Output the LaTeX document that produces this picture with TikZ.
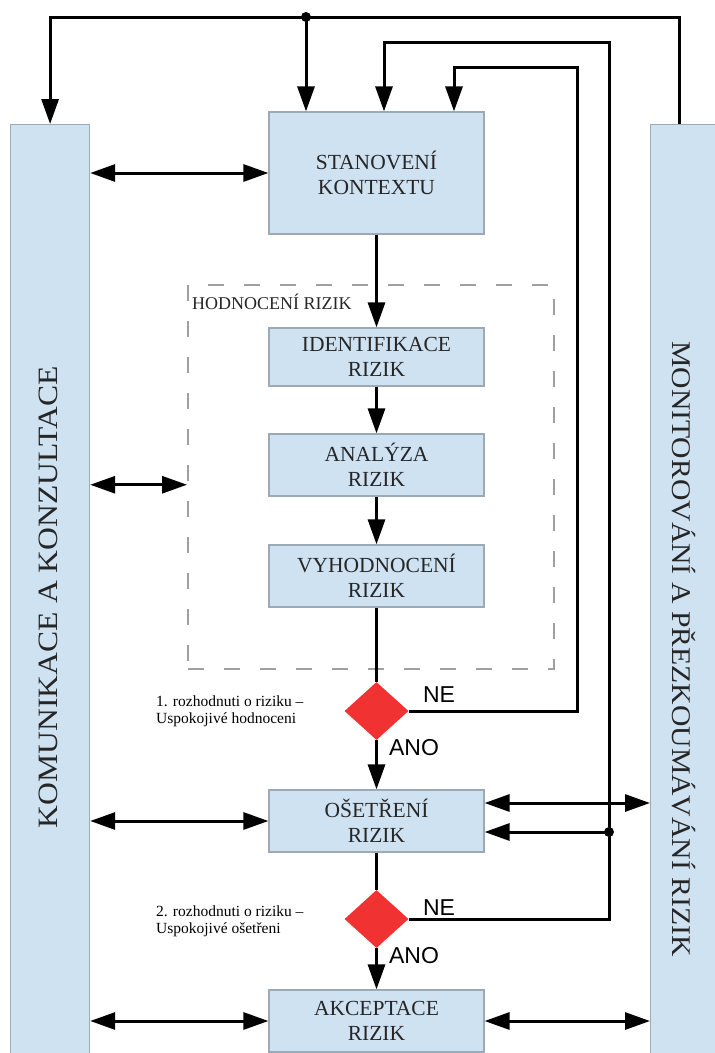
\documentclass[tikz,border=0pt]{standalone}
\usepackage{fontspec}
\setmainfont{Liberation Serif}
\newfontfamily\arialfont{Liberation Sans}
\usetikzlibrary{arrows.meta,shapes.geometric}
\definecolor{boxblue}{RGB}{207,226,242}
\definecolor{boxedge}{RGB}{155,170,180}
\definecolor{decred}{RGB}{240,50,50}
\tikzset{
	krok/.style={draw=boxedge, line width=1.2pt, fill=boxblue, minimum width=215pt, minimum height=60pt, inner sep=0pt, align=center, text=black!85, font=\fontsize{21.5}{25}\selectfont},
	pruh/.style={draw=boxedge, line width=1.2pt, fill=boxblue, inner sep=0pt},
	pruhtext/.style={text=black!85, inner sep=0pt},
	rozhod/.style={diamond, fill=decred, minimum width=64pt, minimum height=58pt, inner sep=0pt},
	spoj/.style={line width=3pt},
	sipka/.style={spoj, -{Triangle[length=25pt,width=17pt]}},
	obousipka/.style={spoj, {Triangle[length=25pt,width=17pt]}-{Triangle[length=25pt,width=17pt]}},
	anone/.style={inner sep=0pt, font=\arialfont\fontsize{23}{23}\selectfont},
	popis/.style={anchor=west, align=left, inner sep=0pt, font=\fontsize{15.5}{17}\selectfont},
}

\begin{document}
\begin{tikzpicture}[x=1pt, y=-1pt]
			%%%%% START %%%%%
			\useasboundingbox (0,0) rectangle (715,1053);
			
			% side bars
			\node[pruh, minimum width=79pt, minimum height=940pt, anchor=north west] (komunikace) at (10,124) {};
			\node[pruh, minimum width=75pt, minimum height=940pt, anchor=north west] (monitorovani) at (650,124) {};
			\node[pruhtext, rotate=90, font=\fontsize{28}{28}\selectfont] (komtext) at (48,597) {\scalebox{1.13}[1]{KOMUNIKACE A KONZULTACE}};
			\node[pruhtext, rotate=-90, font=\fontsize{27}{27}\selectfont] (montext) at (684,649) {\scalebox{1.1}[1]{MONITOROVÁNÍ A PŘEZKOUMÁVÁNÍ RIZIK}};
			
			% frame of the assessment
			\node[draw=gray!75, line width=1.5pt, dash pattern=on 16pt off 20pt, minimum width=366pt, minimum height=384pt, inner sep=0pt, anchor=north west] (hodnoceni) at (187,284) {};
			\node[anchor=west, inner sep=0pt, text=black!85, font=\fontsize{18}{18}\selectfont] (hodnocenitext) at (192,302) {HODNOCENÍ RIZIK};
			
			% steps
			\node[krok, minimum height=122pt] (kontext) at (376.5,173) {STANOVENÍ\\KONTEXTU};
			\node[krok, minimum height=58pt] (identifikace) at (376.5,357) {IDENTIFIKACE\\RIZIK};
			\node[krok, minimum height=62pt] (analyza) at (376.5,465) {ANALÝZA\\RIZIK};
			\node[krok, minimum height=62pt] (vyhodnoceni) at (376.5,576) {VYHODNOCENÍ\\RIZIK};
			\node[rozhod] (rozhodnuti1) at (376.5,711) {};
			\node[krok, minimum height=62pt] (osetreni) at (376.5,821) {OŠETŘENÍ\\RIZIK};
			\node[rozhod] (rozhodnuti2) at (376.5,919) {};
			\node[krok, minimum height=62pt] (akceptace) at (376.5,1021) {AKCEPTACE\\RIZIK};
			
			% decision labels
			\node[anone] (ne1) at (439,695) {NE};
			\node[anone] (ano1) at (414,748) {ANO};
			\node[anone] (ne2) at (439,908) {NE};
			\node[anone] (ano2) at (414,956) {ANO};
			\node[popis] (popis1) at (156,711) {1. rozhodnuti o riziku –\\Uspokojivé hodnoceni};
			\node[popis] (popis2) at (156,921) {2. rozhodnuti o riziku –\\Uspokojivé ošetřeni};
			
			% main flow
			\draw[sipka] (kontext) -- (identifikace);
			\draw[sipka] (identifikace) -- (analyza);
			\draw[sipka] (analyza) -- (vyhodnoceni);
			\draw[spoj] (vyhodnoceni) -- (rozhodnuti1);
			\draw[sipka] (rozhodnuti1) -- (osetreni);
			\draw[spoj] (osetreni) -- (rozhodnuti2);
			\draw[sipka] (rozhodnuti2) -- (akceptace);
			
			% monitoring back to the start
			\coordinate (rozcesti) at (306,17);
			\draw[sipka] ([xshift=29pt]monitorovani.north west) |- (rozcesti) -| (komunikace.north);
			\draw[sipka] (rozcesti) -- (rozcesti |- kontext.north);
			\fill (rozcesti) circle (5pt);
			
			% NE loops
			\coordinate (navrat1) at (577,67);
			\coordinate (navrat2) at (609,42);
			\draw[sipka] (rozhodnuti1.east) -| (navrat1) -| ([xshift=77.5pt]kontext.north);
			\draw[sipka] (rozhodnuti2.east) -| (navrat2) -| ([xshift=7.5pt]kontext.north);
			\coordinate (odbocka) at (609,832);
			\draw[sipka] (odbocka) -- (odbocka -| osetreni.east);
			\fill (odbocka) circle (5pt);
			
			% communication
			\coordinate (hodnocenivstup) at ([yshift=-8pt]hodnoceni.west);
			\draw[obousipka] (komunikace.east |- kontext) -- (kontext.west);
			\draw[obousipka] (komunikace.east |- hodnocenivstup) -- (hodnocenivstup);
			\draw[obousipka] (komunikace.east |- osetreni) -- (osetreni.west);
			\draw[obousipka] (komunikace.east |- akceptace) -- (akceptace.west);
			
			% monitoring
			\coordinate (osetrenihore) at ([yshift=18pt]osetreni.east);
			\draw[obousipka] (osetrenihore) -- (osetrenihore -| monitorovani.west);
			\draw[obousipka] (akceptace.east) -- (akceptace.east -| monitorovani.west);
			
			%%%%% END %%%%%
\end{tikzpicture}
\end{document}
